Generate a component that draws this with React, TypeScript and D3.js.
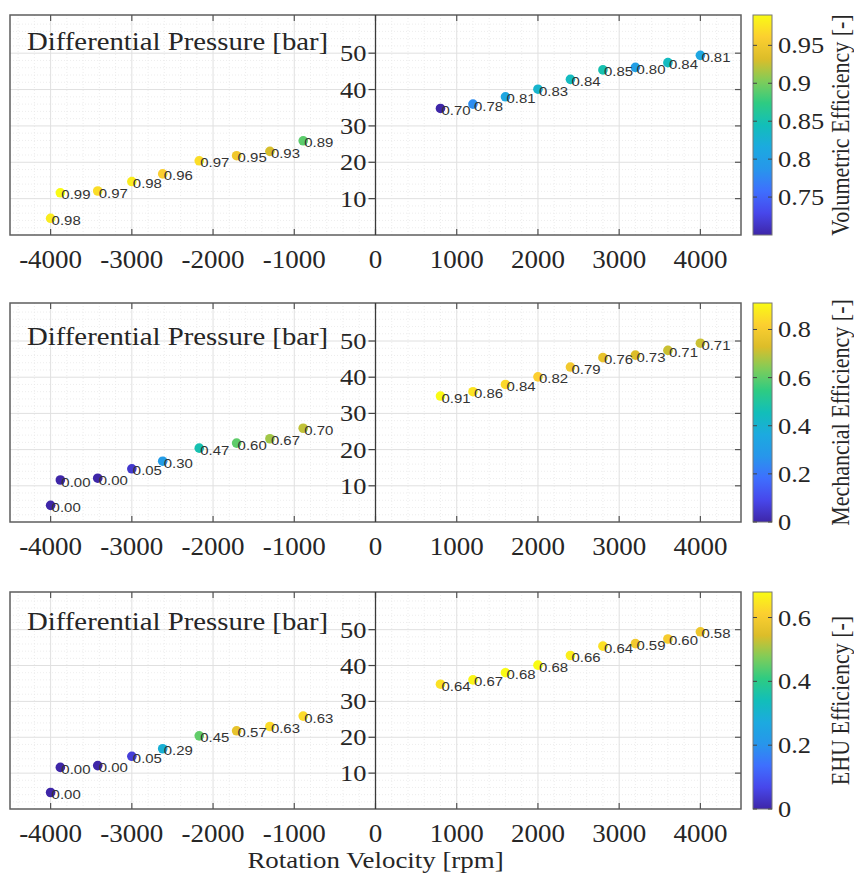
import React from "react";
import * as d3 from "d3";

// operating points (same for all three panels)
const rotationVelocity = [-4000, -3880, -3420, -3000, -2620, -2170, -1710, -1300, -890, 800, 1200, 1600, 2000, 2400, 2800, 3200, 3600, 4000];
const diffPressure = [4.6, 11.6, 12.1, 14.7, 16.8, 20.4, 21.8, 23.0, 25.9, 34.8, 36.0, 38.0, 40.1, 42.8, 45.4, 46.1, 47.4, 49.4];

// efficiencies shown as labels / colours
const volumetricEff = [0.98, 0.99, 0.97, 0.98, 0.96, 0.97, 0.95, 0.93, 0.89, 0.70, 0.78, 0.81, 0.83, 0.84, 0.85, 0.80, 0.84, 0.81];
const mechanicalEff = [0.0, 0.0, 0.0, 0.05, 0.30, 0.47, 0.60, 0.67, 0.70, 0.91, 0.86, 0.84, 0.82, 0.79, 0.76, 0.73, 0.71, 0.71];
const ehuEff = [0.0, 0.0, 0.0, 0.05, 0.29, 0.45, 0.57, 0.63, 0.63, 0.64, 0.67, 0.68, 0.68, 0.66, 0.64, 0.59, 0.60, 0.58];

const xTicks = [-4000, -3000, -2000, -1000, 0, 1000, 2000, 3000, 4000];
const yTicks = [10, 20, 30, 40, 50];
const volTicks = [0.75, 0.8, 0.85, 0.9, 0.95];
const mechTicks = [0, 0.2, 0.4, 0.6, 0.8];
const ehuTicks = [0, 0.2, 0.4, 0.6];

// parula colormap samples
const parula = ["#3e26a8", "#4747eb", "#3e6ffe", "#2796eb", "#1caadf", "#12beb9", "#2ecb82", "#80cc59", "#dcbd29", "#fccf30", "#f9fb14"];
const parulaInterp = d3.piecewise(d3.interpolateRgb, parula);

const serif = { fontFamily: "Liberation Serif, Times New Roman, serif" };
const sans = { fontFamily: "Liberation Sans, Arial, sans-serif" };

const panels = [
  { top: 15, bottom: 235, titleDy: 35, values: volumetricEff, cmin: 0.70, cticks: volTicks, label: "Volumetric Efficiency [-]" },
  { top: 303, bottom: 522, titleDy: 42, values: mechanicalEff, cmin: 0, cticks: mechTicks, label: "Mechancial Efficiency [-]" },
  { top: 592, bottom: 809, titleDy: 38, values: ehuEff, cmin: 0, cticks: ehuTicks, label: "EHU Efficiency [-]" },
];

const left = 10, right = 741;
const cbLeft = 753, cbRight = 772;

const x = d3.scaleLinear().domain([-4500, 4500]).range([left, right]);
const minorX = d3.range(-4400, 4500, 200).filter(v => v % 1000 !== 0);
const minorY = d3.range(2, 61, 2).filter(v => v % 10 !== 0);

function Panel({ p, idx }: any) {
  const y = d3.scaleLinear().domain([0, 60.5]).range([p.bottom, p.top]);
  const cmax = d3.max(p.values as number[])!;
  const c = d3.scaleSequential(parulaInterp).domain([p.cmin, cmax]);
  const cy = d3.scaleLinear().domain([p.cmin, cmax]).range([p.bottom, p.top]);
  const gid = `grad${idx}`;
  const stops = d3.range(0, 1.001, 0.05);
  return (
    <g>
      <defs>
        <linearGradient id={gid} x1="0" y1="1" x2="0" y2="0">
          {stops.map(s => <stop key={s} offset={s} stopColor={parulaInterp(s)} />)}
        </linearGradient>
      </defs>
      {/* grid */}
      {minorX.map(v => <line key={"mx" + v} x1={x(v)} x2={x(v)} y1={p.top} y2={p.bottom} stroke="#e8e8e8" strokeWidth={0.8} strokeDasharray="1,2" />)}
      {minorY.map(v => <line key={"my" + v} x1={left} x2={right} y1={y(v)} y2={y(v)} stroke="#e8e8e8" strokeWidth={0.8} strokeDasharray="1,2" />)}
      {xTicks.filter(v => v !== 0).map(v => <line key={"gx" + v} x1={x(v)} x2={x(v)} y1={p.top} y2={p.bottom} stroke="#e0e0e0" strokeWidth={1} />)}
      {yTicks.map(v => <line key={"gy" + v} x1={left} x2={right} y1={y(v)} y2={y(v)} stroke="#e0e0e0" strokeWidth={1} />)}
      {/* box */}
      <rect x={left} y={p.top} width={right - left} height={p.bottom - p.top} fill="none" stroke="#5e5e5e" strokeWidth={1.5} />
      {xTicks.map(v => (
        <g key={"tx" + v}>
          <line x1={x(v)} x2={x(v)} y1={p.top} y2={p.top + 6} stroke="#555" strokeWidth={1.2} />
          <line x1={x(v)} x2={x(v)} y1={p.bottom} y2={p.bottom - 6} stroke="#555" strokeWidth={1.2} />
          <text transform={`translate(${x(v)},${p.bottom + 33}) scale(1.08,1)`} textAnchor="middle" style={serif} fontSize={25} fill="#262626">{v}</text>
        </g>
      ))}
      {/* y axis at origin */}
      <line x1={x(0)} x2={x(0)} y1={p.top} y2={p.bottom} stroke="#3a3a3a" strokeWidth={1.3} />
      {yTicks.map(v => (
        <g key={"ty" + v}>
          <line x1={x(0) - 7} x2={x(0)} y1={y(v)} y2={y(v)} stroke="#444" strokeWidth={1.2} />
          <line x1={right - 6} x2={right} y1={y(v)} y2={y(v)} stroke="#555" strokeWidth={1.2} />
          <text transform={`translate(${x(0) - 9},${y(v) + 8}) scale(1.1,1)`} textAnchor="end" style={serif} fontSize={24} fill="#262626">{v}</text>
        </g>
      ))}
      <text transform={`translate(${left + 17},${p.top + p.titleDy}) scale(1.15,1)`} style={serif} fontSize={25} fill="#262626">Differential Pressure [bar]</text>
      {/* points */}
      {rotationVelocity.map((v, i) => (
        <circle key={"pt" + i} cx={x(v)} cy={y(diffPressure[i])} r={4.8} fill={c(p.values[i])} />
      ))}
      {rotationVelocity.map((v, i) => (
        <text key={"lb" + i} transform={`translate(${x(v) + 1},${y(diffPressure[i]) + 6.5}) scale(1.15,1)`} style={sans} fontSize={13} fill="#333">{(p.values[i] as number).toFixed(2)}</text>
      ))}
      {/* colorbar */}
      <rect x={cbLeft} y={p.top} width={cbRight - cbLeft} height={p.bottom - p.top} fill={`url(#${gid})`} stroke="#777" strokeWidth={1} />
      {p.cticks.map((t: number) => (
        <g key={"ct" + t}>
          <line x1={cbRight - 4} x2={cbRight} y1={cy(t)} y2={cy(t)} stroke="#444" strokeWidth={1} />
          <line x1={cbLeft} x2={cbLeft + 4} y1={cy(t)} y2={cy(t)} stroke="#444" strokeWidth={1} />
          <text transform={`translate(${cbRight + 6},${cy(t) + 8}) scale(1.1,1)`} style={serif} fontSize={24} fill="#262626">{String(t)}</text>
        </g>
      ))}
      <text transform={`translate(${841},${(p.top + p.bottom) / 2}) rotate(-90) scale(1,1.1)`} textAnchor="middle" dominantBaseline="central" style={serif} fontSize={22} fill="#262626">{p.label}</text>
    </g>
  );
}

export default function App() {
  return (
    <svg width={854} height={886} style={{ position: "absolute", left: 0, top: 0, background: "#fff" }}>
      {panels.map((p, i) => <Panel key={i} p={p} idx={i} />)}
      <text transform={`translate(${x(0)},${868}) scale(1.12,1)`} textAnchor="middle" style={serif} fontSize={24} fill="#262626">Rotation Velocity [rpm]</text>
    </svg>
  );
}
